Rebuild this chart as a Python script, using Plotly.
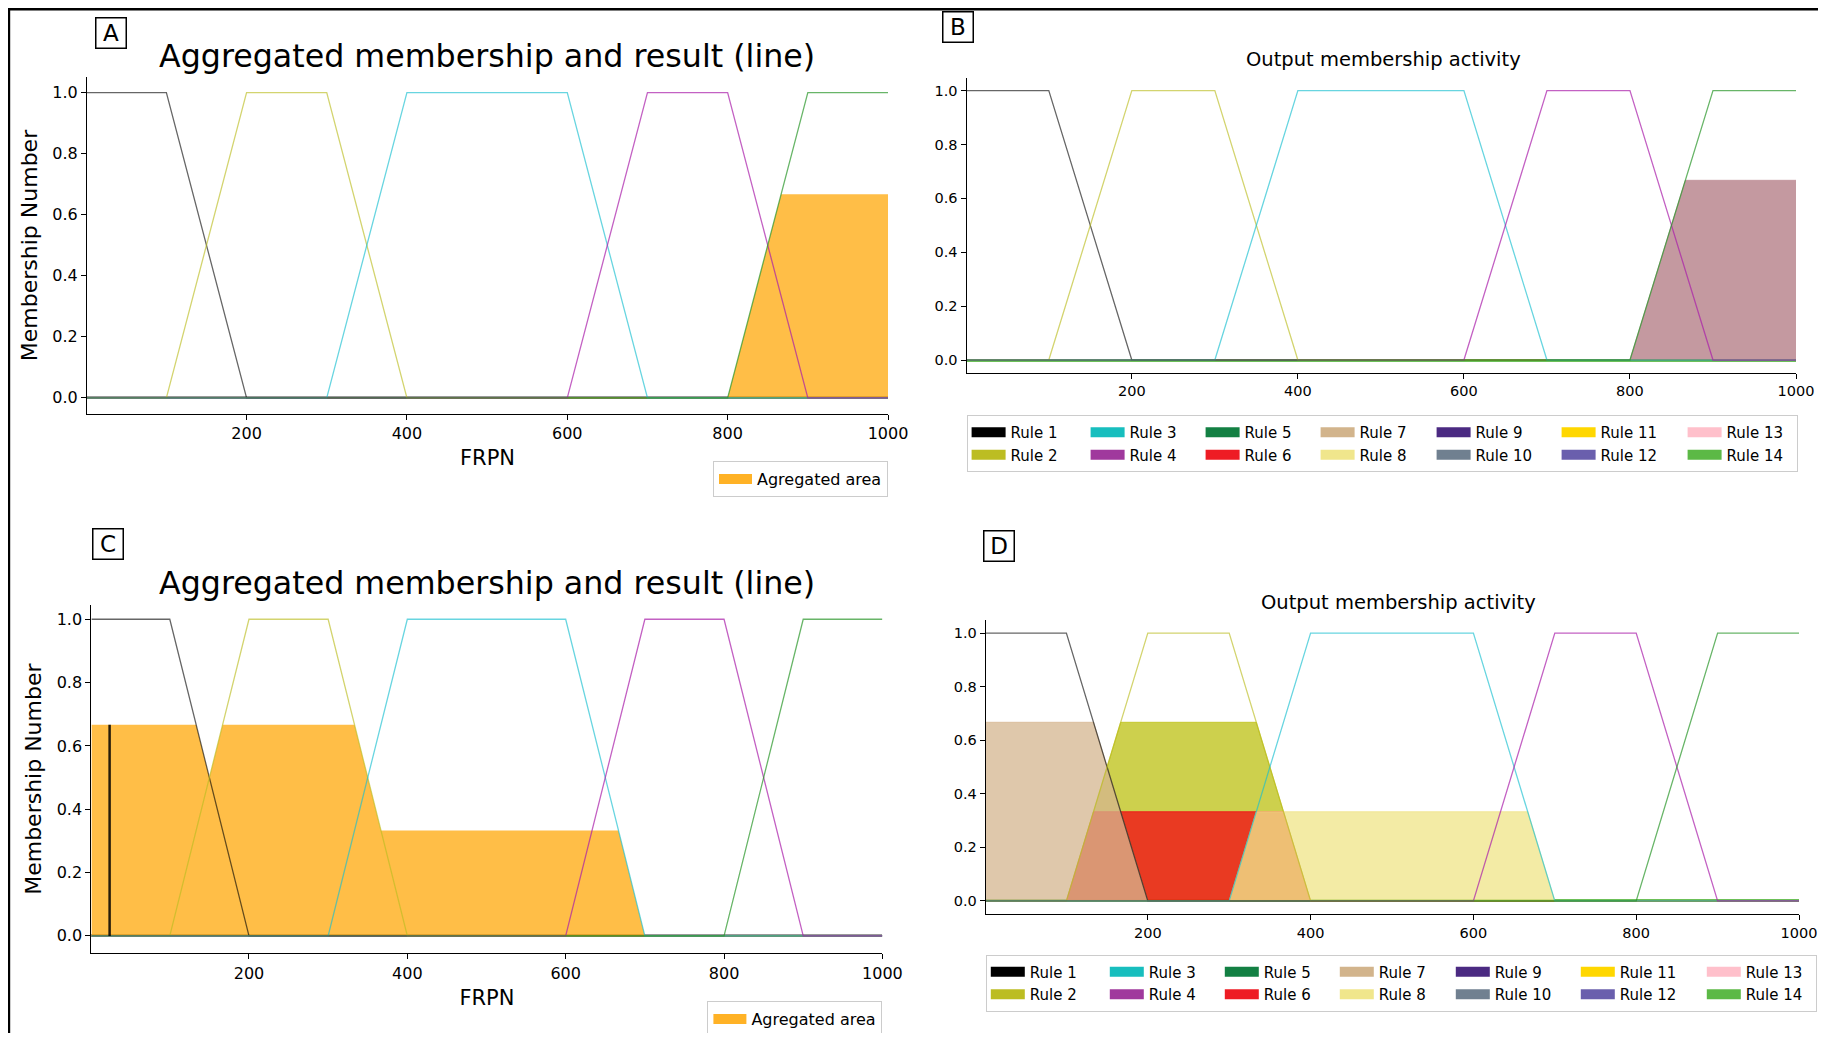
import plotly.graph_objects as go

# The page body keeps its default 8px margin: the figure is sized so that it
# fills the 1826x1041 window exactly; page pixel positions are converted below.
PAGE_OFF = 8
W, H = 1826 - 2 * PAGE_OFF, 1041 - 2 * PAGE_OFF
FONT = "DejaVu Sans"


def fx(px):
    return (px - PAGE_OFF) / W


def fy(py):
    return 1 - (py - PAGE_OFF) / H


# ---------------- data ----------------
# Output variable FRPN: membership-function vertices
mf_names = ["Very low", "Low", "Medium", "High", "Very high"]
mf_x = [
    [1, 100, 200, 1000],
    [1, 100, 200, 300, 400, 1000],
    [1, 300, 400, 600, 700, 1000],
    [1, 600, 700, 800, 900, 1000],
    [1, 800, 900, 1000],
]
mf_y = [
    [1, 1, 0, 0],
    [0, 0, 1, 1, 0, 0],
    [0, 0, 1, 1, 0, 0],
    [0, 0, 1, 1, 0, 0],
    [0, 0, 1, 1],
]
mf_colors = [
    "rgba(0,0,0,0.6)",
    "rgba(188,189,34,0.65)",
    "rgba(23,190,207,0.65)",
    "rgba(170,30,170,0.7)",
    "rgba(40,150,40,0.7)",
]

# Case 1 (panels A and B): aggregated membership
agg1_x = [1, 800, 866.7, 1000]
agg1_y = [0, 0, 0.667, 0.667]
act1_color = "rgb(196,153,160)"

# Case 2 (panels C and D): aggregated membership and result line
agg2_x = [1, 133.3, 150, 166.7, 333.3, 366.7, 666.7, 700, 1000]
agg2_y = [0.667, 0.667, 0.5, 0.667, 0.667, 0.333, 0.333, 0, 0]
result2_x = 24
result2_act = 0.667

# Rules
rule_names = ["Rule %d" % i for i in range(1, 15)]
rule_colors = [
    "#000000", "#bcbd22", "#17bebe", "#a0399d", "#138043", "#ee1c24", "#d2b48c",
    "#f0e68c", "#4b2a82", "#708090", "#ffd700", "#6a5fad", "#ffc0cb", "#5cb946",
]
# Activated rule areas in case 2 (panel D), drawn in rule order
rule_fill_names = ["Rule 2", "Rule 6", "Rule 7", "Rule 8"]
rule_fill_x = [
    [1, 100, 166.7, 333.3, 400, 1000],
    [1, 100, 133.3, 366.7, 400, 1000],
    [1, 133.3, 200, 1000],
    [1, 300, 333.3, 666.7, 700, 1000],
]
rule_fill_y = [
    [0, 0, 0.667, 0.667, 0, 0],
    [0, 0, 0.333, 0.333, 0, 0],
    [0.667, 0.667, 0, 0],
    [0, 0, 0.333, 0.333, 0, 0],
]
rule_fill_colors = ["rgba(188,192,18,0.75)", "rgba(241,8,20,0.75)",
                    "rgba(212,182,143,0.75)", "rgba(240,230,140,0.78)"]

y_ticks = [0.0, 0.2, 0.4, 0.6, 0.8, 1.0]
x_ticks = [200, 400, 600, 800, 1000]

# ---------------- layout geometry (page pixels) ----------------
panels = {
    "A": dict(ax="", px=(87, 888), py=(77, 414), yr=(-0.053, 1.051)),
    "B": dict(ax="2", px=(966.6, 1796), py=(77.7, 372.7), yr=(-0.047, 1.048)),
    "C": dict(ax="3", px=(91.4, 882.4), py=(605, 953.3), yr=(-0.055, 1.045)),
    "D": dict(ax="4", px=(985.8, 1799), py=(620, 914), yr=(-0.049, 1.049)),
}

fig = go.Figure()


def add_mf_lines(ax):
    for xs, ys, c, n in zip(mf_x, mf_y, mf_colors, mf_names):
        fig.add_trace(go.Scatter(x=xs, y=ys, mode="lines", name=n, showlegend=False,
                                 line=dict(color=c, width=1.3),
                                 xaxis="x" + ax, yaxis="y" + ax, hoverinfo="skip"))


# Panel A
fig.add_trace(go.Scatter(x=agg1_x, y=agg1_y, mode="lines", fill="tozeroy",
                         fillcolor="rgba(255,165,0,0.72)", line=dict(width=0),
                         showlegend=False, xaxis="x", yaxis="y"))
add_mf_lines("")
fig.add_trace(go.Scatter(x=[None], y=[None], mode="lines", name="Agregated area",
                         line=dict(color="rgba(255,165,0,0.85)", width=10),
                         legend="legend", xaxis="x", yaxis="y"))

# Panel B
fig.add_trace(go.Scatter(x=agg1_x, y=agg1_y, mode="lines", fill="tozeroy",
                         fillcolor=act1_color, line=dict(width=1, color=act1_color),
                         showlegend=False, xaxis="x2", yaxis="y2"))
add_mf_lines("2")

# Panel C
fig.add_trace(go.Scatter(x=agg2_x, y=agg2_y, mode="lines", fill="tozeroy",
                         fillcolor="rgba(255,165,0,0.72)", line=dict(width=0),
                         showlegend=False, xaxis="x3", yaxis="y3"))
add_mf_lines("3")
fig.add_trace(go.Scatter(x=[result2_x, result2_x], y=[0, result2_act], mode="lines",
                         line=dict(color="rgba(0,0,0,0.85)", width=2.5),
                         showlegend=False, xaxis="x3", yaxis="y3"))
fig.add_trace(go.Scatter(x=[None], y=[None], mode="lines", name="Agregated area",
                         line=dict(color="rgba(255,165,0,0.85)", width=10),
                         legend="legend3", xaxis="x3", yaxis="y3"))

# Panel D
for xs, ys, c, n in zip(rule_fill_x, rule_fill_y, rule_fill_colors, rule_fill_names):
    fig.add_trace(go.Scatter(x=xs, y=ys, mode="lines", fill="tozeroy", fillcolor=c,
                             line=dict(width=1, color=c), name=n, showlegend=False,
                             xaxis="x4", yaxis="y4"))
add_mf_lines("4")

# Rule legends for B and D (7 columns x 2 rows)
col_widths = [70, 66, 66, 67, 76, 77, 65]
for ax, leg in (("2", "legend2"), ("4", "legend4")):
    for i, (n, c) in enumerate(zip(rule_names, rule_colors)):
        fig.add_trace(go.Scatter(x=[None], y=[None], mode="lines", name=n,
                                 line=dict(color=c, width=10), legend=leg,
                                 legendgroup=leg + "c%d" % (i // 2),
                                 legendwidth=col_widths[i // 2],
                                 xaxis="x" + ax, yaxis="y" + ax))

layout = dict(width=W, height=H, margin=dict(l=0, r=0, t=0, b=0, autoexpand=False),
              paper_bgcolor="white", plot_bgcolor="white",
              font=dict(family=FONT, color="black"))

for key, p in panels.items():
    ax = p["ax"]
    big = key in ("A", "C")
    tfs = 16 if big else 14.5
    xa = dict(domain=[fx(p["px"][0]), fx(p["px"][1])], range=[1, 1000],
              tickvals=x_ticks, showline=True, linecolor="black", linewidth=1.2,
              ticks="outside", ticklen=5, tickwidth=1.2, tickcolor="black",
              showgrid=False, zeroline=False, tickfont=dict(size=tfs),
              automargin=False, ticklabeloverflow="allow", anchor="y" + ax)
    ya = dict(domain=[fy(p["py"][1]), fy(p["py"][0])], range=list(p["yr"]),
              tickvals=y_ticks, tickformat=".1f", showline=True, linecolor="black",
              linewidth=1.2, ticks="outside", ticklen=5, tickwidth=1.2,
              tickcolor="black", showgrid=False, zeroline=True,
              zerolinecolor="rgba(120,120,120,0.75)" if big else "rgba(92,185,70,0.9)",
              zerolinewidth=3, tickfont=dict(size=tfs), automargin=False,
              anchor="x" + ax)
    if big:
        xa["title"] = dict(text="FRPN", font=dict(size=21), standoff=8)
        ya["title"] = dict(text="Membership Number", font=dict(size=22), standoff=8)
    layout["xaxis" + ax] = xa
    layout["yaxis" + ax] = ya

leg_common = dict(bgcolor="white", bordercolor="#cccccc", borderwidth=1)
layout["legend"] = dict(x=fx(888), xanchor="right", y=fy(461), yanchor="top",
                        font=dict(size=16), itemwidth=33, **leg_common)
layout["legend3"] = dict(x=fx(882.4), xanchor="right", y=fy(1001), yanchor="top",
                         font=dict(size=16), itemwidth=33, **leg_common)
layout["legend2"] = dict(x=fx(966.6), xanchor="left", y=fy(415), yanchor="top",
                         orientation="h", traceorder="grouped", tracegroupgap=0,
                         font=dict(size=15), itemwidth=34, **leg_common)
layout["legend4"] = dict(x=fx(985.8), xanchor="left", y=fy(954.5), yanchor="top",
                         orientation="h", traceorder="grouped", tracegroupgap=0,
                         font=dict(size=15), itemwidth=34, **leg_common)

annotations = []
# titles
for txt, cx, cy, fs in (("Aggregated membership and result (line)", 487, 56, 31.7),
                        ("Output membership activity", 1383, 59.5, 19.5),
                        ("Aggregated membership and result (line)", 487, 583, 31.7),
                        ("Output membership activity", 1398, 602.5, 19.5)):
    annotations.append(dict(text=txt, x=fx(cx), y=fy(cy), xref="paper", yref="paper",
                            xanchor="center", yanchor="middle", showarrow=False,
                            font=dict(size=fs)))
# panel letters
for txt, cx, cy in (("A", 110.5, 33), ("B", 958, 26.5), ("C", 107.5, 543.5), ("D", 998.5, 546)):
    annotations.append(dict(text=txt, x=fx(cx), y=fy(cy), xref="paper", yref="paper",
                            xanchor="center", yanchor="middle", showarrow=False,
                            font=dict(size=23), bordercolor="black", borderwidth=1.5,
                            borderpad=0, width=29, height=29, bgcolor="white"))
layout["annotations"] = annotations

# figure frame (top and left rules)
layout["shapes"] = [
    dict(type="line", xref="paper", yref="paper", x0=fx(7), x1=1, y0=fy(9), y1=fy(9),
         line=dict(color="black", width=3)),
    dict(type="line", xref="paper", yref="paper", x0=fx(8.7), x1=fx(8.7), y0=0, y1=fy(7.5),
         line=dict(color="black", width=3)),
]

fig.update_layout(**layout)
fig.write_html("out.html")
